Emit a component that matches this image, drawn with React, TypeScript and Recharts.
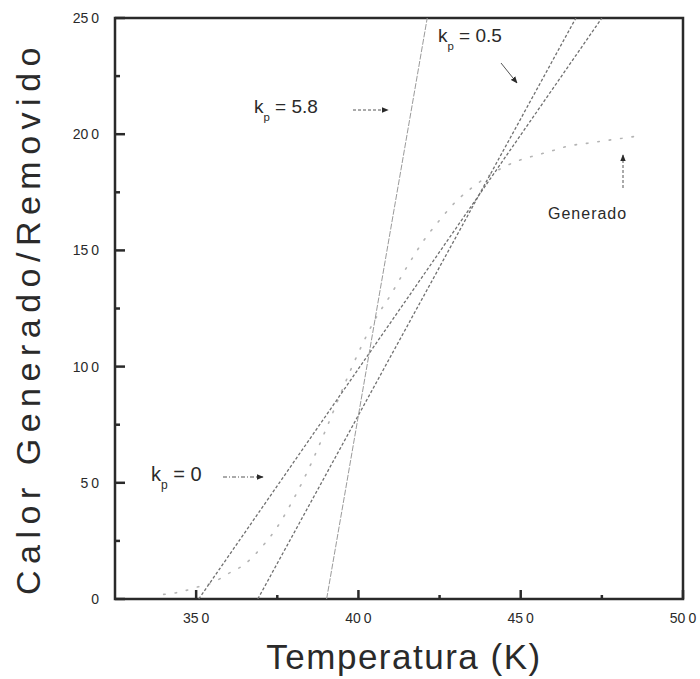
import React from 'react'
import {
  LineChart,
  Line,
  XAxis,
  YAxis,
  ReferenceArea,
} from 'recharts'

// Temperatura (K) y calor generado / removido
const generadoT = [340, 345, 350, 355, 360, 365, 370, 375, 380, 385, 390, 395, 400, 405, 410, 415, 420, 425, 430, 435, 440, 445, 450, 455, 460, 465, 470, 475, 480, 485]
const generadoQ = [2, 3, 5, 7, 11, 15, 22, 31, 43, 57, 73, 90, 106, 120, 131, 143, 154, 163, 171, 177, 182, 186, 189, 191, 193, 195, 196, 197, 198, 199]

const kp0T = [350.8, 475]
const kp0Q = [0, 250]
const kp05T = [369, 467]
const kp05Q = [0, 250]
const kp58T = [390.2, 421.2]
const kp58Q = [0, 250]

const xTicks = [350, 375, 400, 425, 450, 475, 500]
const xMajor = [350, 400, 450, 500]
const yTicks = [0, 25, 50, 75, 100, 125, 150, 175, 200, 225, 250]
const yMajor = [0, 50, 100, 150, 200, 250]

const toPoints = (xs: number[], ys: number[]) => xs.map((x, i) => ({ x, y: ys[i] }))

const generado = toPoints(generadoT, generadoQ)
const kp0 = toPoints(kp0T, kp0Q)
const kp05 = toPoints(kp05T, kp05Q)
const kp58 = toPoints(kp58T, kp58Q)

const FONT = '"Liberation Sans", Arial, sans-serif'
const INK = '#2a2a2a'

function TickText({ x, y, value, anchor }: { x: number; y: number; value: number; anchor: 'middle' | 'end' }) {
  const s = String(value)
  if (s.length < 2) {
    return (
      <text x={x} y={y} textAnchor={anchor} fontSize={14} fill={INK} fontFamily={FONT}>
        {s}
      </text>
    )
  }
  return (
    <text x={x} y={y} textAnchor={anchor} fontSize={14} fill={INK} fontFamily={FONT}>
      {s.slice(0, -1)}
      <tspan dx={3}>{s.slice(-1)}</tspan>
    </text>
  )
}

function XTick(props: any) {
  const { x, y, payload } = props
  const major = xMajor.includes(payload.value)
  return (
    <g>
      <line x1={x} y1={y} x2={x} y2={y - (major ? 9 : 4)} stroke={INK} strokeWidth={2.5} />
      {major && <TickText x={x} y={y + 24} value={payload.value} anchor="middle" />}
    </g>
  )
}

function YTick(props: any) {
  const { x, y, payload } = props
  const major = yMajor.includes(payload.value)
  return (
    <g>
      <line x1={x} y1={y} x2={x + (major ? 10 : 5)} y2={y} stroke={INK} strokeWidth={2.5} />
      {major && <TickText x={x - 16} y={y + 5} value={payload.value} anchor="end" />}
    </g>
  )
}

function Kp({ x, y, rest, size }: { x: number; y: number; rest: string; size: number }) {
  return (
    <text x={x} y={y} fontSize={size} fill={INK} fontFamily={FONT}>
      k
      <tspan fontSize={size * 0.6} dy={8}>p</tspan>
      <tspan dy={-8}>{rest}</tspan>
    </text>
  )
}

export default function App() {
  return (
    <div style={{ position: 'absolute', left: 0, top: 0, width: 700, height: 679, background: '#fff' }}>
      <LineChart
        width={700}
        height={679}
        margin={{ top: 18, right: 17, bottom: 0, left: 0 }}
      >
        <XAxis
          type="number"
          dataKey="x"
          domain={[325, 500]}
          ticks={xTicks}
          interval={0}
          height={80}
          axisLine={false}
          tickLine={false}
          tickSize={0}
          tickMargin={0}
          tick={(p: any) => <XTick {...p} />}
          allowDataOverflow
        />
        <YAxis
          type="number"
          dataKey="y"
          domain={[0, 250]}
          ticks={yTicks}
          interval={0}
          width={115}
          axisLine={false}
          tickLine={false}
          tickSize={0}
          tickMargin={0}
          tick={(p: any) => <YTick {...p} />}
          allowDataOverflow
        />
        <ReferenceArea x1={325} x2={500} y1={0} y2={250} fill="none" stroke={INK} strokeWidth={2.5} />
        <Line
          data={generado}
          dataKey="y"
          type="monotone"
          stroke="#b4b4b4"
          strokeWidth={1.6}
          strokeDasharray="1.5 10"
          strokeLinecap="round"
          dot={false}
          isAnimationActive={false}
        />
        <Line
          data={kp0}
          dataKey="y"
          type="linear"
          stroke="#707070"
          strokeWidth={1.3}
          strokeDasharray="3 2"
          dot={false}
          isAnimationActive={false}
        />
        <Line
          data={kp05}
          dataKey="y"
          type="linear"
          stroke="#707070"
          strokeWidth={1.3}
          strokeDasharray="3 2"
          dot={false}
          isAnimationActive={false}
        />
        <Line
          data={kp58}
          dataKey="y"
          type="linear"
          stroke="#9a9a9a"
          strokeWidth={1}
          strokeDasharray="6 1.5"
          dot={false}
          isAnimationActive={false}
        />
      </LineChart>
      <svg
        width={700}
        height={679}
        style={{ position: 'absolute', left: 0, top: 0, pointerEvents: 'none' }}
      >
        <defs>
          <marker id="ah" viewBox="0 0 10 10" refX="9" refY="5" markerWidth="7" markerHeight="7" orient="auto">
            <path d="M0,1 L10,5 L0,9 z" fill={INK} />
          </marker>
        </defs>
        <Kp x={254} y={113} rest=" = 5.8" size={19} />
        <line x1={353} y1={110} x2={388} y2={110} stroke="#555" strokeWidth={1} strokeDasharray="3 2" markerEnd="url(#ah)" />
        <Kp x={438} y={42} rest=" = 0.5" size={19} />
        <line x1={501} y1={63} x2={517} y2={83} stroke="#555" strokeWidth={1} markerEnd="url(#ah)" />
        <Kp x={151} y={481} rest=" = 0" size={20} />
        <line x1={223} y1={477} x2={263} y2={477} stroke="#555" strokeWidth={1} strokeDasharray="4 2 1 2" markerEnd="url(#ah)" />
        <text x={548} y={219} fontSize={16} letterSpacing={1} fill={INK} fontFamily={FONT}>Generado</text>
        <line x1={623} y1={188} x2={623} y2={155} stroke="#555" strokeWidth={1} strokeDasharray="3 2" markerEnd="url(#ah)" />
        <text
          x={404}
          y={669}
          textAnchor="middle"
          fontSize={35}
          letterSpacing={1.5}
          fill={INK}
          fontFamily={FONT}
        >
          Temperatura (K)
        </text>
        <text
          transform="translate(40, 318) rotate(-90)"
          textAnchor="middle"
          fontSize={34}
          letterSpacing={6.5}
          fill={INK}
          fontFamily={FONT}
        >
          Calor Generado/Removido
        </text>
      </svg>
    </div>
  )
}
